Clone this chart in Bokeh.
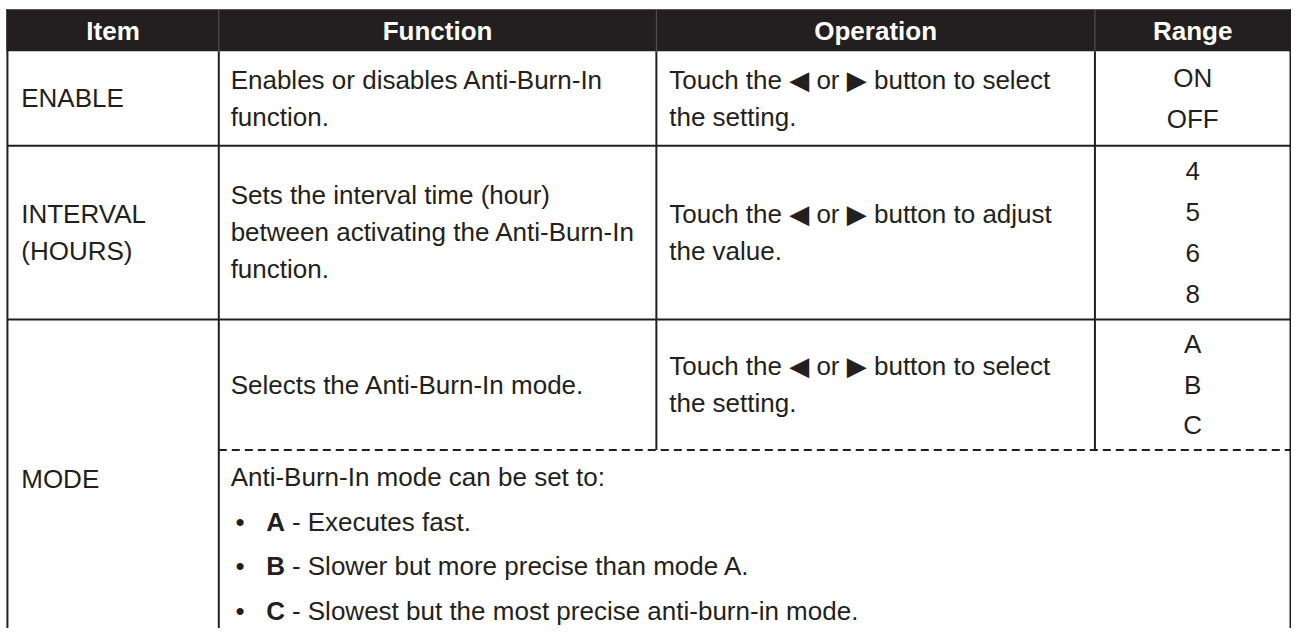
from bokeh.plotting import figure
from bokeh.models import Range1d
from bokeh.core.properties import value
from bokeh.embed import file_html
from bokeh.resources import INLINE

# ---------------- data (table content) ----------------
headers = ["Item", "Function", "Operation", "Range"]
items = [["ENABLE"], ["INTERVAL", "(HOURS)"], ["MODE"]]
functions = [
    ["Enables or disables Anti-Burn-In", "function."],
    ["Sets the interval time (hour)", "between activating the Anti-Burn-In", "function."],
    ["Selects the Anti-Burn-In mode."],
]
operations = [
    ["Touch the \u25C0 or \u25B6 button to select", "the setting."],
    ["Touch the \u25C0 or \u25B6 button to adjust", "the value."],
    ["Touch the \u25C0 or \u25B6 button to select", "the setting."],
]
ranges = [["ON", "OFF"], ["4", "5", "6", "8"], ["A", "B", "C"]]
mode_note = "Anti-Burn-In mode can be set to:"
mode_keys = ["A", "B", "C"]
mode_desc = [
    "- Executes fast.",
    "- Slower but more precise than mode A.",
    "- Slowest but the most precise anti-burn-in mode.",
]

# ---------------- layout (in reference picture pixels) ----------------
INK = "#231f20"
FONT = value("Liberation Sans, Arial, DejaVu Sans, sans-serif")
FS = "26px"
COLX = [7, 221, 664, 1108, 1306]
HEAD_TOP, HEAD_BOT = 9, 52
ROW_LINES = [52, 149, 327]
DASH_Y = 461
BOTTOM = 644
CELL_BANDS = [(52, 149), (149, 327), (327, 461)]
SHIFT = 9.7          # baseline -> anchor correction for the svg text
TEXT_LS = 38
RANGE_LS = 42

p = figure(width=1291, height=628, x_range=Range1d(0, 1307), y_range=Range1d(644, 0),
           toolbar_location=None, output_backend="svg", min_border=0,
           x_axis_type=None, y_axis_type=None)
p.grid.visible = False
p.outline_line_color = None
p.background_fill_color = "white"
p.border_fill_color = "white"

# header band
p.quad(left=[COLX[0] - 1], right=[COLX[-1] + 1], top=[HEAD_TOP], bottom=[HEAD_BOT],
       fill_color=INK, line_color=None)
p.segment(x0=COLX[1:4], y0=[HEAD_TOP] * 3, x1=COLX[1:4], y1=[HEAD_BOT] * 3,
          line_color="#5a5759", line_width=1)
hx = [(COLX[0] + COLX[1]) / 2, (COLX[1] + COLX[2]) / 2, (COLX[2] + COLX[3]) / 2, (COLX[3] + COLX[4]) / 2]
p.text(x=hx, y=[41 - SHIFT] * 4, text=headers, text_align="center", text_baseline="alphabetic",
       text_font=FONT, text_font_size=FS, text_font_style="bold", text_color="white")

# grid lines
x0s, y0s, x1s, y1s = [], [], [], []
for y in ROW_LINES[1:]:
    x0s.append(COLX[0]); x1s.append(COLX[-1]); y0s.append(y); y1s.append(y)
for x, ya, yb in [(COLX[0], HEAD_TOP, BOTTOM), (COLX[-1], HEAD_TOP, BOTTOM),
                  (COLX[1], HEAD_BOT, BOTTOM), (COLX[2], HEAD_BOT, DASH_Y), (COLX[3], HEAD_BOT, DASH_Y)]:
    x0s.append(x); x1s.append(x); y0s.append(ya); y1s.append(yb)
p.segment(x0=x0s, y0=y0s, x1=x1s, y1=y1s, line_color=INK, line_width=2)
p.segment(x0=[COLX[1]], y0=[DASH_Y], x1=[COLX[-1]], y1=[DASH_Y], line_color=INK,
          line_width=2, line_dash="8 5")

# cell texts (vertically centred in their cells)
def lines_for(cells, x, ls):
    xs, ys, ts = [], [], []
    for (top, bot), lines in zip(CELL_BANDS, cells):
        base = (top + bot) / 2 + 9.5
        n = len(lines)
        for i, t in enumerate(lines):
            xs.append(x); ys.append(base + (i - (n - 1) / 2) * ls - SHIFT); ts.append(t)
    return xs, ys, ts

tx, ty, tt = [], [], []
for cells, x, ls in [(items[:2], 21, TEXT_LS), (functions, 233, TEXT_LS), (operations, 677, TEXT_LS)]:
    a, b, c = lines_for(cells, x, ls)
    tx += a; ty += b; tt += c
tx += [21, 233]; ty += [500 - SHIFT, 498 - SHIFT]; tt += [items[2][0], mode_note]
p.text(x=tx, y=ty, text=tt, text_align="left", text_baseline="alphabetic",
       text_font=FONT, text_font_size=FS, text_color=INK)

rx, ry, rt = lines_for(ranges, 1207, RANGE_LS)
p.text(x=rx, y=ry, text=rt, text_align="center", text_baseline="alphabetic",
       text_font=FONT, text_font_size=FS, text_color=INK)

# bullet list
by = [544 + 46 * i - SHIFT for i in range(len(mode_keys))]
p.text(x=[238] * len(by), y=by, text=["\u2022"] * len(by), text_align="left",
       text_baseline="alphabetic", text_font=FONT, text_font_size=FS, text_color=INK)
p.text(x=[269] * len(by), y=by, text=mode_keys, text_align="left", text_baseline="alphabetic",
       text_font=FONT, text_font_size=FS, text_font_style="bold", text_color=INK)
p.text(x=[295] * len(by), y=by, text=mode_desc, text_align="left", text_baseline="alphabetic",
       text_font=FONT, text_font_size=FS, text_color=INK)

open("out.html", "w").write(file_html(p, INLINE))
